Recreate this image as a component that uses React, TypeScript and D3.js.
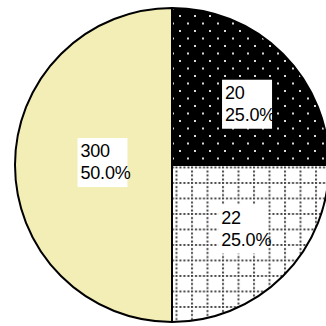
import React from "react";
import * as d3 from "d3";

// ---- data ----
const categories = ["A", "B", "C"];
const values = [20, 22, 300];
const shares = [25, 25, 50]; // percent of pie

// ---- layout / style ----
const W = 326;
const H = 326;
const CX = 172;
const CY = 165;
const R = 157;
const fills = ["url(#dots)", "url(#grid)", "#F2EEB6"];
const labelRadiusFrac = [0.615, 0.61, 0.443];
const labelAngleNudge = [6, -3, 2]; // degrees

export default function App() {
  const pie = d3
    .pie<number>()
    .sort(null)
    .value((d) => d)
    .startAngle(0)
    .endAngle(2 * Math.PI);
  const arcs = pie(shares);
  const arc = d3.arc<d3.PieArcDatum<number>>().innerRadius(0).outerRadius(R);
  const pct = d3.format(".1f");

  return (
    <svg
      width={W}
      height={H}
      style={{ position: "fixed", left: 0, top: 0, background: "#fff" }}
    >
      <defs>
        <pattern id="dots" patternUnits="userSpaceOnUse" width={15} height={15} x={0} y={0}>
          <rect width={15} height={15} fill="#000" />
          <rect x={7} y={0} width={2} height={2} fill="#d8d8d8" />
          <rect x={0} y={7.5} width={2} height={2} fill="#d8d8d8" />
        </pattern>
        <pattern id="grid" patternUnits="userSpaceOnUse" width={15.5} height={15.5} x={174} y={172}>
          <rect width={15.5} height={15.5} fill="#fff" />
          <line x1={1} y1={0} x2={1} y2={15.5} stroke="#444" strokeWidth={2} strokeDasharray="2 2" />
          <line x1={0} y1={1} x2={15.5} y2={1} stroke="#444" strokeWidth={2} strokeDasharray="2 2" />
        </pattern>
      </defs>
      <g transform={`translate(${CX},${CY})`}>
        {arcs.map((a, i) => (
          <path key={categories[i]} d={arc(a) || ""} fill={fills[i]} stroke="#000" strokeWidth={2} />
        ))}
        {arcs.map((a, i) => {
          const mid = (a.startAngle + a.endAngle) / 2 + (labelAngleNudge[i] * Math.PI) / 180;
          const lr = R * labelRadiusFrac[i];
          const x = Math.sin(mid) * lr;
          const y = -Math.cos(mid) * lr;
          return (
            <g key={"l" + i} transform={`translate(${x},${y})`}>
              <rect x={-25} y={-24.5} width={50} height={49} fill="#fff" />
              <text
                x={-22}
                y={-5.5}
                fontFamily="'Liberation Sans', Arial, sans-serif"
                fontSize={18}
                letterSpacing={-0.2}
                fill="#000"
              >
                {values[i]}
              </text>
              <text
                x={-22}
                y={16.5}
                fontFamily="'Liberation Sans', Arial, sans-serif"
                fontSize={18}
                letterSpacing={-0.2}
                fill="#000"
              >
                {pct(shares[i]) + "%"}
              </text>
            </g>
          );
        })}
      </g>
    </svg>
  );
}
